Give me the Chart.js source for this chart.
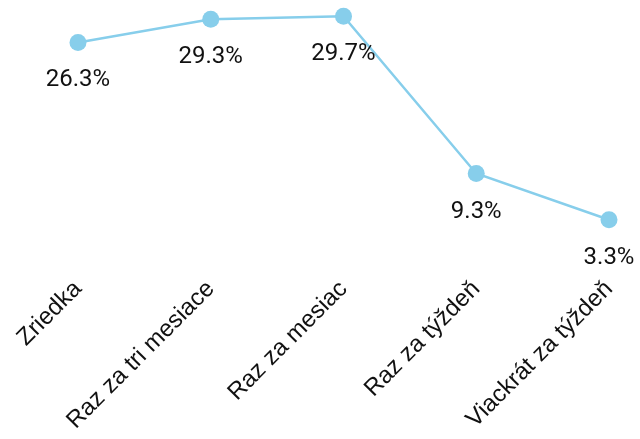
<!DOCTYPE html>
<html>
<head>
<meta charset="utf-8">
<script src="https://cdn.jsdelivr.net/npm/chart.js@4.4.1/dist/chart.umd.min.js"></script>
<style>
  html, body { margin: 0; padding: 0; background: #fff; }
  #wrap { width: 640px; height: 439px; }
</style>
</head>
<body>
<div id="wrap"><canvas id="lineChart"></canvas></div>
<script>
var categories = ["Zriedka", "Raz za tri mesiace", "Raz za mesiac", "Raz za týždeň", "Viackrát za týždeň"];
var shares = [26.3, 29.3, 29.7, 9.3, 3.3];

// percentage label under each point
var pointLabels = {
    id: 'pointLabels',
    afterDatasetsDraw: function (chart) {
        var ctx = chart.ctx;
        var meta = chart.getDatasetMeta(0);
        ctx.save();
        ctx.font = '24px Roboto';
        ctx.fillStyle = '#111';
        ctx.textAlign = 'center';
        ctx.textBaseline = 'middle';
        meta.data.forEach(function (pt, i) {
            ctx.fillText(shares[i].toFixed(1) + '%', pt.x, pt.y + 38);
        });
        ctx.restore();
    }
};

var ctxL = document.getElementById("lineChart").getContext('2d');

var myLineChart = new Chart(ctxL, {
    type: 'line',
    data: {
        labels: categories,
        datasets: [{
            data: shares,
            borderColor: 'rgb(135, 206, 235)',
            backgroundColor: 'rgb(135, 206, 235)',
            pointBackgroundColor: 'rgb(135, 206, 235)',
            pointBorderWidth: 0,
            pointRadius: 8.5,
            borderWidth: 2.5,
            tension: 0,
            fill: false,
            clip: false
        }]
    },
    options: {
        responsive: true,
        maintainAspectRatio: false,
        animation: false,
        layout: {
            padding: { left: 78, right: 31, top: 0, bottom: 0 }
        },
        plugins: {
            legend: { display: false },
            tooltip: { enabled: false }
        },
        scales: {
            x: {
                offset: false,
                grid: { display: false, drawTicks: false },
                border: { display: false },
                ticks: {
                    maxRotation: 45,
                    minRotation: 45,
                    padding: 4,
                    color: '#111',
                    font: { family: '"Liberation Sans", Arial, sans-serif', size: 24 }
                }
            },
            y: {
                display: false,
                min: -3.35,
                max: 30.7
            }
        }
    },
    plugins: [pointLabels]
});
</script>
</body>
</html>
